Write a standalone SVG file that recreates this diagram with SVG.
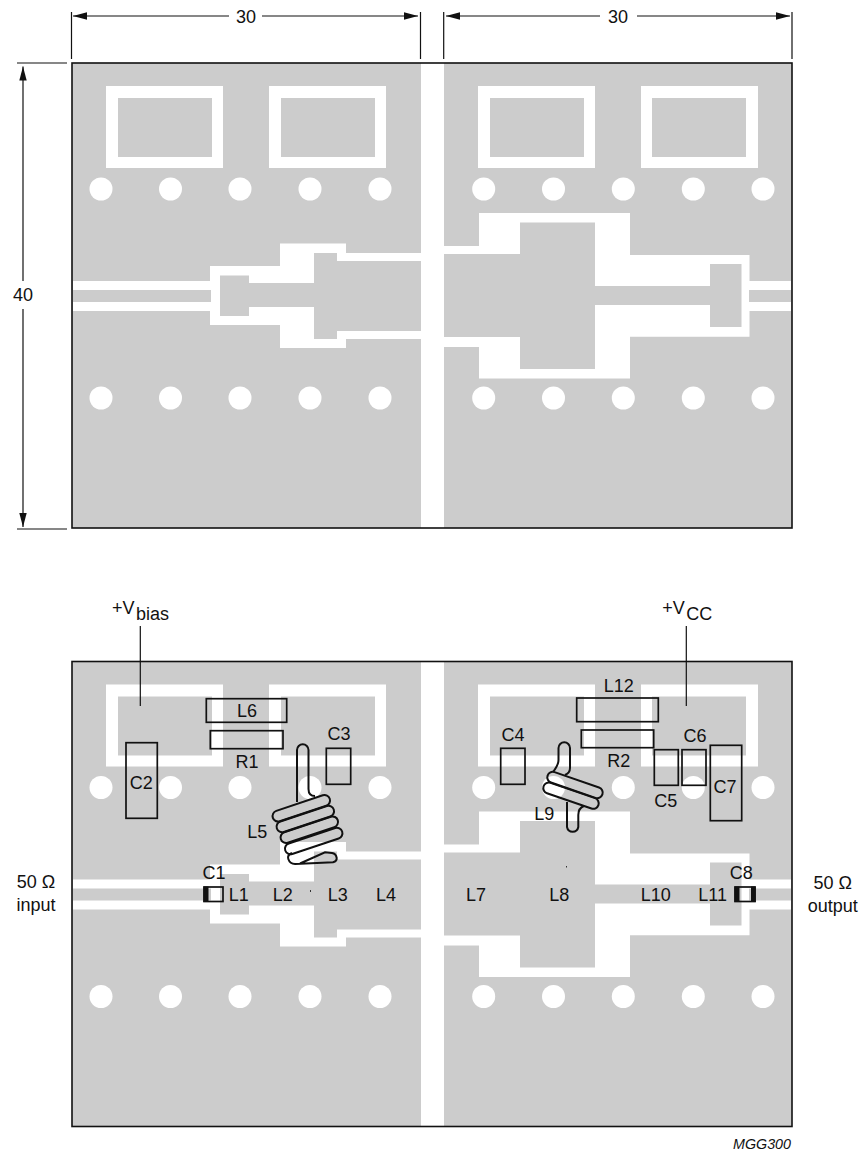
<svg xmlns="http://www.w3.org/2000/svg" xmlns:xlink="http://www.w3.org/1999/xlink" width="864" height="1153" viewBox="0 0 864 1153">
<style>
text{font-family:"Liberation Sans",Arial,sans-serif;font-size:18px;fill:#111;text-anchor:middle}
.g{fill:#ccc}.w{fill:#fff}
.thin{stroke:#111;stroke-width:1.2;fill:none}
.c{fill:none;stroke:#111;stroke-width:1.7}
.coil{fill:none;stroke:#111;stroke-width:2}
</style>
<defs>
<marker id="ah" markerUnits="userSpaceOnUse" markerWidth="15" markerHeight="8" refX="14" refY="4" orient="auto-start-reverse"><path d="M0 0.3L14 4L0 7.7Z" fill="#111"/></marker>
<g id="board">
<rect class="g" x="72" y="63" width="349" height="465"/>
<rect class="g" x="444" y="63" width="348" height="465"/>
<path class="w" fill-rule="evenodd" d="M106 86H223V168H106ZM118 98V157H212V98Z"/>
<path class="w" fill-rule="evenodd" d="M269 86H386V168H269ZM281 98V157H375V98Z"/>
<path class="w" fill-rule="evenodd" d="M478 86H595V168H478ZM490 98V157H584V98Z"/>
<path class="w" fill-rule="evenodd" d="M641 86H758V168H641ZM652 98V157H746V98Z"/>
<g class="w">
<circle cx="101" cy="189" r="11.5"/><circle cx="170.5" cy="189" r="11.5"/><circle cx="240" cy="189" r="11.5"/><circle cx="310" cy="189" r="11.5"/><circle cx="380" cy="189" r="11.5"/>
<circle cx="483.7" cy="189" r="11.5"/><circle cx="553.5" cy="189" r="11.5"/><circle cx="623.3" cy="189" r="11.5"/><circle cx="693.3" cy="189" r="11.5"/><circle cx="763" cy="189" r="11.5"/>
<circle cx="101" cy="398" r="11.5"/><circle cx="170.5" cy="398" r="11.5"/><circle cx="240" cy="398" r="11.5"/><circle cx="310" cy="398" r="11.5"/><circle cx="380" cy="398" r="11.5"/>
<circle cx="483.7" cy="398" r="11.5"/><circle cx="553.5" cy="398" r="11.5"/><circle cx="623.3" cy="398" r="11.5"/><circle cx="693.3" cy="398" r="11.5"/><circle cx="763" cy="398" r="11.5"/>
</g>
<path class="w" d="M73 281H210V266H280V243.5H346V253H421V339H346V348H280V325H210V311H73Z"/>
<path class="g" d="M73 290H211V302H73Z"/>
<path class="g" d="M220 275.5H249V283H314V253H337V261H421V331H337V339H314V307H249V316H220Z"/>
<path class="w" d="M444 246H479V213H630V255H749.5V281H791V311H749.5V336.7H630V378.5H479V347H444Z"/>
<path class="g" d="M444 254H520V222.5H595V286H710V264H741.5V327H710V305H595V369H520V337H444Z"/>
<path class="g" d="M749 290H791V302H749Z"/>
<rect x="72" y="63" width="720" height="465" fill="none" stroke="#111" stroke-width="1.6"/>
</g>
</defs>
<rect width="864" height="1153" fill="#fff"/>
<g id="board-top"><use href="#board" xlink:href="#board"/></g>
<g id="board-bottom"><use href="#board" xlink:href="#board" y="598.5"/></g>
<g id="connectors">
<path class="thin" d="M71.5 12V59M420.5 12V59M443.7 12V59M792 12V59M17 63H67M17 529H67"/>
<path class="thin" d="M229 16H73" marker-end="url(#ah)"/>
<path class="thin" d="M262 16H418" marker-end="url(#ah)"/>
<path class="thin" d="M600 16H446" marker-end="url(#ah)"/>
<path class="thin" d="M637 16H790" marker-end="url(#ah)"/>
<path class="thin" d="M23 281V66.5" marker-end="url(#ah)"/>
<path class="thin" d="M23 309V527" marker-end="url(#ah)"/>
<path class="thin" d="M140.3 626V706M686.3 626V706"/>
</g>
<g id="dim-top-left"><text x="246" y="23">30</text></g>
<g id="dim-top-right"><text x="618" y="23">30</text></g>
<g id="dim-height"><text x="23" y="301">40</text></g>
<g id="vbias"><text x="112" y="614" style="text-anchor:start">+V<tspan dx="1.5" dy="6">bias</tspan></text></g>
<g id="vcc"><text x="662.3" y="614" style="text-anchor:start">+V<tspan dx="1.5" dy="6">CC</tspan></text></g>
<g id="input"><text x="36" y="888">50 Ω</text><text x="36" y="911">input</text></g>
<g id="output"><text x="832.7" y="889">50 Ω</text><text x="832.7" y="912">output</text></g>
<g id="C1"><rect class="c" x="204" y="887" width="19" height="14.5"/><rect x="203.5" y="886.5" width="5" height="15.5" fill="#111"/><text x="214" y="879">C1</text></g>
<g id="C2"><rect class="c" x="126" y="742.7" width="31.3" height="75.6"/><text x="141.3" y="788.7">C2</text></g>
<g id="C3"><rect class="c" x="326.3" y="748.3" width="24.4" height="36"/><text x="339" y="740">C3</text></g>
<g id="C4"><rect class="c" x="500.7" y="748.3" width="24.3" height="36"/><text x="513" y="741">C4</text></g>
<g id="C5"><rect class="c" x="654.3" y="749.7" width="24" height="35.6"/><text x="665.7" y="807">C5</text></g>
<g id="C6"><rect class="c" x="682" y="749.7" width="24" height="35.6"/><text x="695" y="742.3">C6</text></g>
<g id="C7"><rect class="c" x="710.3" y="745.3" width="31.4" height="75.4"/><text x="725" y="793">C7</text></g>
<g id="C8"><rect class="c" x="735" y="887" width="20" height="14.5"/><rect x="734.5" y="886.5" width="5" height="15.5" fill="#111"/><rect x="751" y="886.5" width="4.7" height="15.5" fill="#111"/><text x="741.3" y="879">C8</text></g>
<g id="R1"><rect class="c" x="210.3" y="730.7" width="72.7" height="18"/><text x="247" y="768">R1</text></g>
<g id="R2"><rect class="c" x="581.3" y="730" width="72.4" height="17.7"/><text x="618.7" y="766.7">R2</text></g>
<g id="L1"><text x="238.7" y="901">L1</text></g>
<g id="L2"><text x="282.7" y="901">L2</text><rect x="310" y="890" width="1" height="2" fill="#333"/></g>
<g id="L3"><text x="337.7" y="901">L3</text></g>
<g id="L4"><text x="386" y="901">L4</text></g>
<g id="L5">
<path class="coil" d="M297 802V750A5.75 5.75 0 0 1 308.5 750V789Q308.5 796 315 796"/>
<rect class="coil" x="271.3" y="802.8" width="60" height="11" rx="5.5" transform="rotate(-18.5 301.3 808.3)"/>
<rect class="coil" x="275.3" y="813.5" width="60" height="11" rx="5.5" transform="rotate(-18.5 305.3 819)"/>
<rect class="coil" x="279.3" y="824.2" width="60" height="11" rx="5.5" transform="rotate(-18.5 309.3 829.7)"/>
<rect class="coil" x="283.7" y="835.5" width="60" height="11" rx="5.5" transform="rotate(-18.5 313.7 841)"/>
<path class="coil" d="M292 853Q287 855 288.3 859Q290 864 295 864L333 862.3Q337 861 336.7 858Q336 853.5 332 853L325 852.3L300 863.5"/>
<text x="257.3" y="837.7">L5</text>
</g>
<g id="L6"><rect class="c" x="206.3" y="698.7" width="80.4" height="23.6"/><text x="247" y="716.7">L6</text></g>
<g id="L7"><text x="476" y="901">L7</text></g>
<g id="L8"><text x="559.3" y="901">L8</text><rect x="566" y="866" width="1" height="1.5" fill="#333"/></g>
<g id="L9">
<path class="coil" d="M553 772Q558.5 765 558.5 760V748A5.75 5.75 0 0 1 570 748V768Q570 773 565 775"/>
<path class="coil" d="M567 802V827A5.75 5.75 0 0 0 578.3 827V815Q578.3 808 584 806"/>
<rect class="coil" x="546" y="779.5" width="58" height="11" rx="5.5" transform="rotate(19 575 785)"/>
<rect class="coil" x="542" y="790.2" width="58" height="11" rx="5.5" transform="rotate(19 571 795.7)"/>
<text x="544.3" y="820">L9</text>
</g>
<g id="L10"><text x="655.7" y="901">L10</text></g>
<g id="L11"><text x="712.7" y="901">L11</text></g>
<g id="L12"><rect class="c" x="576.7" y="698" width="81.6" height="23.7"/><text x="618.7" y="692">L12</text></g>
<g id="code"><text x="791" y="1149" style="text-anchor:end;font-style:italic;font-size:14px" textLength="58" lengthAdjust="spacingAndGlyphs">MGG300</text></g>
</svg>
